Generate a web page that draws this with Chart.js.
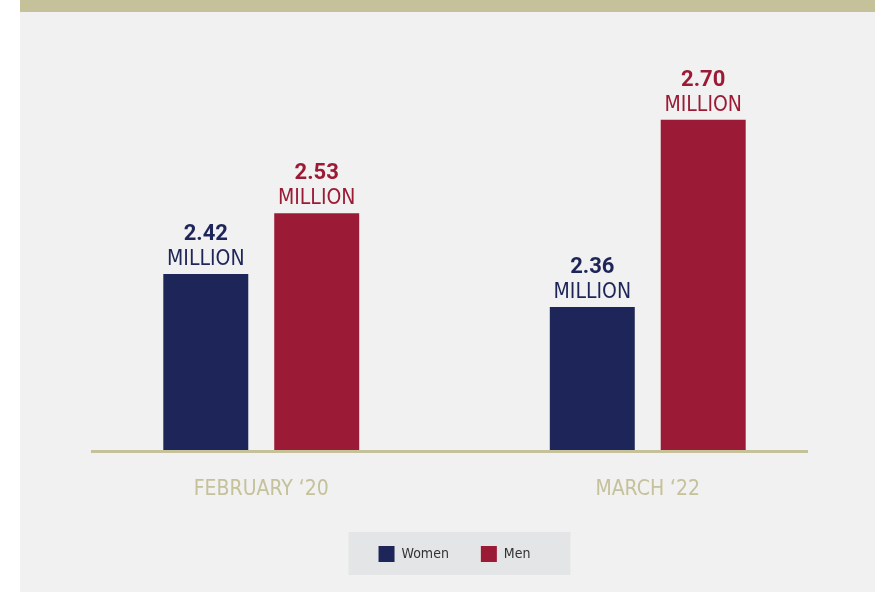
<!DOCTYPE html>
<html>
<head>
<meta charset="utf-8">
<script src="https://cdn.jsdelivr.net/npm/chart.js@4/dist/chart.umd.min.js"></script>
<style>
  html, body { margin: 0; padding: 0; background: #ffffff; }
  #wrap { width: 875px; height: 592px; position: relative; }
</style>
</head>
<body>
<div id="wrap"><canvas id="jobsChart" width="875" height="592"></canvas></div>
<script>
const periods = ['FEBRUARY \u201820', 'MARCH \u201822'];
const womenValues = [2.42, 2.36];
const menValues = [2.53, 2.70];
const seriesNames = ['Women', 'Men'];

const NAVY = '#1e2558';
const CRIMSON = '#9b1b36';
const TAN = '#c5c19b';
const NARROW = "'DejaVu Sans Condensed', Roboto, sans-serif";

// background panel, top band and the grey legend box
const backdrop = {
  id: 'backdrop',
  beforeDraw(chart) {
    const ctx = chart.ctx;
    ctx.save();
    ctx.fillStyle = '#ffffff';
    ctx.fillRect(0, 0, chart.width, chart.height);
    ctx.fillStyle = '#f0f1f0';
    ctx.fillRect(20, 0, chart.width - 20, chart.height);
    ctx.fillStyle = TAN;
    ctx.fillRect(20, 0, chart.width - 20, 12);
    const boxes = chart.legend && chart.legend.legendHitBoxes;
    if (boxes && boxes.length) {
      const first = boxes[0];
      const last = boxes[boxes.length - 1];
      const cy = first.top + first.height / 2;
      const left = first.left - 30;
      const right = last.left + last.width + 40;
      ctx.fillStyle = '#e4e5e6';
      ctx.fillRect(left, cy - 22, right - left, 43);
    }
    ctx.restore();
  }
};

// baseline under the bars
const baseline = {
  id: 'baseline',
  afterDatasetsDraw(chart) {
    const ctx = chart.ctx;
    const y = chart.chartArea.bottom + 1.5;
    ctx.save();
    ctx.strokeStyle = TAN;
    ctx.lineWidth = 3;
    ctx.beginPath();
    ctx.moveTo(91, y);
    ctx.lineTo(808, y);
    ctx.stroke();
    ctx.restore();
  }
};

// value + MILLION labels above each bar
const valueLabels = {
  id: 'valueLabels',
  afterDatasetsDraw(chart) {
    const ctx = chart.ctx;
    ctx.save();
    ctx.textAlign = 'center';
    ctx.textBaseline = 'alphabetic';
    chart.data.datasets.forEach((ds, i) => {
      const meta = chart.getDatasetMeta(i);
      meta.data.forEach((bar, j) => {
        ctx.fillStyle = ds.backgroundColor;
        ctx.font = 'bold 22px Roboto, sans-serif';
        ctx.fillText(ds.data[j].toFixed(2), bar.x, bar.y - 34);
        ctx.font = '21px ' + NARROW;
        ctx.fillText('MILLION', bar.x, bar.y - 9);
      });
    });
    ctx.restore();
  }
};

const ctx = document.getElementById('jobsChart').getContext('2d');
const chart = new Chart(ctx, {
  type: 'bar',
  data: {
    labels: periods,
    datasets: [
      { label: seriesNames[0], data: womenValues, backgroundColor: NAVY, borderWidth: 0 },
      { label: seriesNames[1], data: menValues, backgroundColor: CRIMSON, borderWidth: 0 }
    ]
  },
  options: {
    responsive: false,
    animation: false,
    devicePixelRatio: 1,
    categoryPercentage: 0.574,
    barPercentage: 0.766,
    layout: { padding: { top: 62, left: 68, right: 34, bottom: 20 } },
    plugins: {
      tooltip: { enabled: false },
      legend: {
        position: 'bottom',
        labels: {
          boxWidth: 16,
          boxHeight: 16,
          padding: 32,
          color: '#333333',
          font: { family: NARROW, size: 14 }
        }
      }
    },
    scales: {
      x: {
        grid: { display: false, drawTicks: false },
        border: { display: false },
        ticks: {
          padding: 27,
          color: TAN,
          font: { family: NARROW, size: 21 }
        },
        afterFit(scale) { scale.height = 64; }
      },
      y: {
        display: false,
        min: 2.1,
        max: 2.805
      }
    }
  },
  plugins: [backdrop, baseline, valueLabels]
});
</script>
</body>
</html>
